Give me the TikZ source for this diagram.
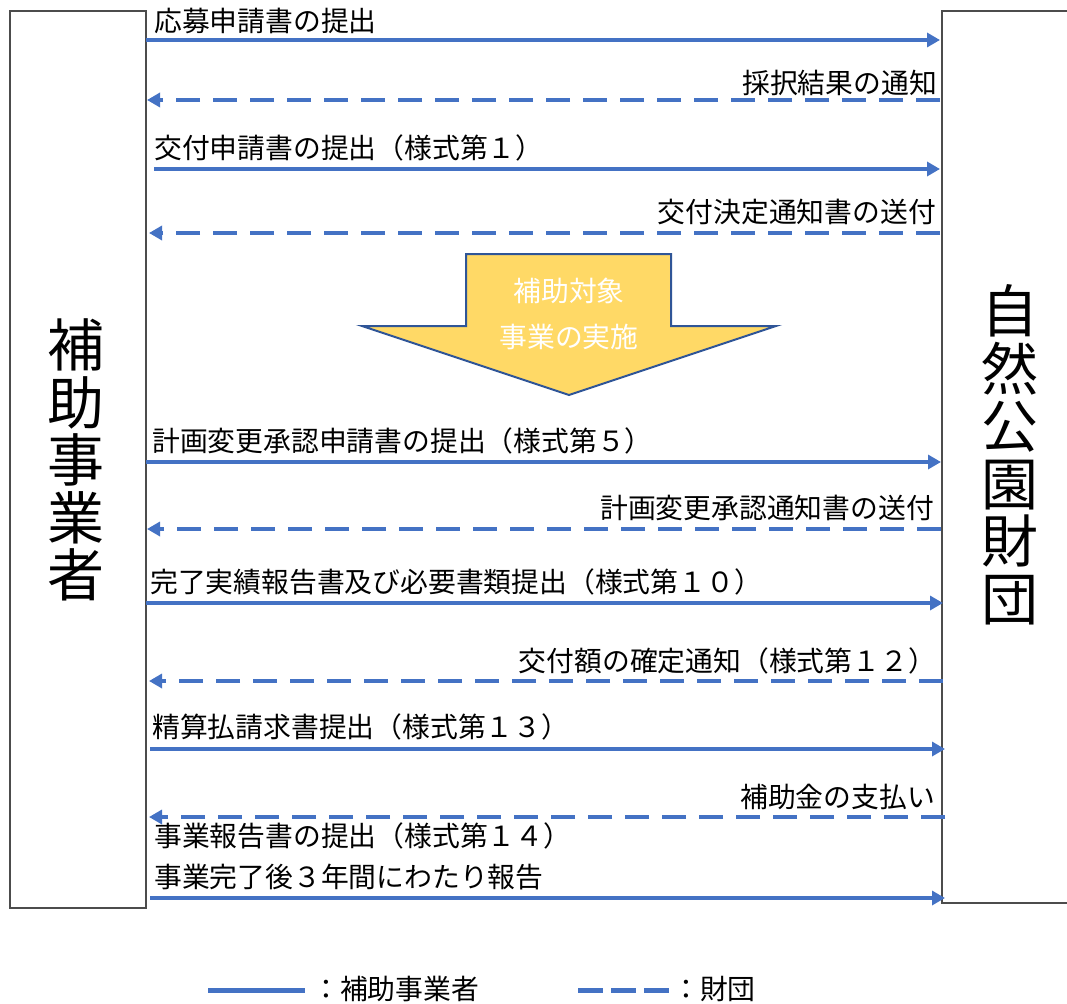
\documentclass[tikz,border=0pt]{standalone}
\usepackage{fontspec}
\setmainfont{Noto Sans CJK JP}
\usetikzlibrary{arrows.meta}
\definecolor{lineblue}{HTML}{4472C4}
\definecolor{arrowfill}{HTML}{FFD966}
\definecolor{arrowedge}{HTML}{2F5597}
\tikzset{
  actor/.style={draw=black!70, line width=1.2pt},
  solidmsg/.style={draw=lineblue, line width=4pt, -{Triangle[length=13pt,width=14pt]}},
  dashmsg/.style={draw=lineblue, line width=4pt, dash pattern=on 24pt off 13pt, -{Triangle[length=13pt,width=14pt]}},
  lbl/.style={inner sep=0pt, font=\fontsize{27.8}{31}\selectfont, text=black},
  lbll/.style={lbl, anchor=west},
  lblr/.style={lbl, anchor=east},
  vert/.style={inner sep=0pt, align=center, font=\fontsize{57}{57.5}\selectfont},
}
\begin{document}
\begin{tikzpicture}[x=1pt,y=-1pt]
\useasboundingbox (0,0) rectangle (1067,1003);
% actor boxes
\draw[actor] (10,11) rectangle (146,908);
\draw[actor] (1090,11) -- (942,11) -- (942,903) -- (1090,903);
\node[vert] (lft) at (76,460) {補\\助\\事\\業\\者};
\node[vert] (rgt) at (1010,455) {自\\然\\公\\園\\財\\団};

% coordinates for message ends
\coordinate (a1) at (146,40);  \coordinate (b1) at (940,40);
\coordinate (a2) at (940,100); \coordinate (b2) at (147,100);
\coordinate (a3) at (154,169); \coordinate (b3) at (940,169);
\coordinate (a4) at (940,233); \coordinate (b4) at (149,233);
\coordinate (a6) at (146,462); \coordinate (b6) at (941,462);
\coordinate (a7) at (941,529); \coordinate (b7) at (147,529);
\coordinate (a8) at (146,603); \coordinate (b8) at (943,603);
\coordinate (a9) at (943,681); \coordinate (b9) at (149,681);
\coordinate (a10) at (150,749); \coordinate (b10) at (945,749);
\coordinate (a11) at (945,817); \coordinate (b11) at (149,817);
\coordinate (a12) at (150,898); \coordinate (b12) at (945,898);

\draw[solidmsg] (a1) -- (b1);
\draw[dashmsg] (a2) -- (b2);
\draw[solidmsg] (a3) -- (b3);
\draw[dashmsg] (a4) -- (b4);
\draw[solidmsg] (a6) -- (b6);
\draw[dashmsg] (a7) -- (b7);
\draw[solidmsg] (a8) -- (b8);
\draw[dashmsg] (a9) -- (b9);
\draw[solidmsg] (a10) -- (b10);
\draw[dashmsg] (a11) -- (b11);
\draw[solidmsg] (a12) -- (b12);

% labels
\node[lbll] (t1) at (154,21) {応募申請書の提出};
\node[lblr] (t2) at (937,83) {採択結果の通知};
\node[lbll] (t3) at (154,148) {交付申請書の提出（様式第１）};
\node[lblr] (t4) at (936,212) {交付決定通知書の送付};
\node[lbll] (t6) at (152,441) {計画変更承認申請書の提出（様式第５）};
\node[lblr] (t7) at (934,508) {計画変更承認通知書の送付};
\node[lbll] (t8) at (150,582) {完了実績報告書及び必要書類提出（様式第１０）};
\node[lblr] (t9) at (936,661) {交付額の確定通知（様式第１２）};
\node[lbll] (t10) at (152,727) {精算払請求書提出（様式第１３）};
\node[lblr] (t11) at (935,797) {補助金の支払い};
\node[lbll] (t12a) at (154,836) {事業報告書の提出（様式第１４）};
\node[lbll] (t12b) at (154,877) {事業完了後３年間にわたり報告};

% big arrow
\draw[fill=arrowfill, draw=arrowedge, line width=2pt, line join=miter]
  (466,254) -- (671,254) -- (671,326) -- (776,326) -- (569,395) -- (362,326) -- (466,326) -- cycle;
\node[lbl, text=white] (bigA) at (569,291) {補助対象};
\node[lbl, text=white] (bigB) at (569,337) {事業の実施};

% legend
\coordinate (ls1) at (208,990); \coordinate (ls2) at (305,990);
\draw[draw=lineblue, line width=5pt] (ls1) -- (ls2);
\node[lbll] (lt1) at (312,989) {：補助事業者};
\coordinate (ld1) at (578,990); \coordinate (ld2) at (670,990);
\draw[draw=lineblue, line width=5pt, dash pattern=on 25pt off 8pt] (ld1) -- (ld2);
\node[lbll] (lt2) at (672,989) {：財団};
\end{tikzpicture}
\end{document}
